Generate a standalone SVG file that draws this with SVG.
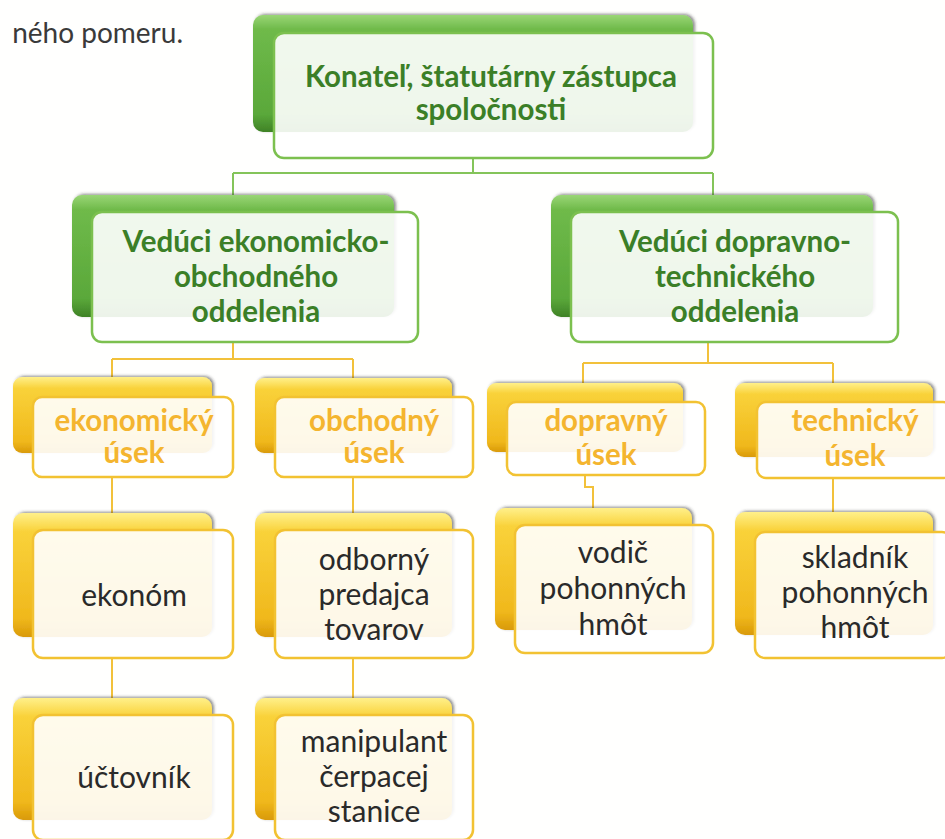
<svg xmlns="http://www.w3.org/2000/svg" width="945" height="839" viewBox="0 0 945 839">
<defs>
<linearGradient id="gG" x1="0" y1="0" x2="0" y2="1">
<stop offset="0" stop-color="#9ad676"/>
<stop offset="0.12" stop-color="#6fba4a"/>
<stop offset="0.85" stop-color="#5aa83a"/>
<stop offset="1" stop-color="#3f8226"/>
</linearGradient>
<linearGradient id="gY" x1="0" y1="0" x2="0" y2="1">
<stop offset="0" stop-color="#fff08a"/>
<stop offset="0.15" stop-color="#f9d23a"/>
<stop offset="0.85" stop-color="#f0b81c"/>
<stop offset="1" stop-color="#d99a08"/>
</linearGradient>
<filter id="sh" x="-10%" y="-10%" width="125%" height="125%">
<feDropShadow dx="2" dy="-1" stdDeviation="1.5" flood-color="#333" flood-opacity="0.55"/>
</filter>
<style>
.bg{fill:url(#gG);filter:url(#sh)}
.by{fill:url(#gY);filter:url(#sh)}
.fg{fill:#ffffff;fill-opacity:0.9;stroke:#7cc04f;stroke-width:2.5}
.fy{fill:#ffffff;fill-opacity:0.9;stroke:#f2c232;stroke-width:2.5}
.tg{font-family:Lato,"Liberation Sans",sans-serif;font-weight:bold;fill:#3b7f27;text-anchor:middle;font-size:29.5px}
.ty{font-family:Lato,"Liberation Sans",sans-serif;font-weight:bold;fill:#f4b52f;text-anchor:middle;font-size:29.5px}
.tk{font-family:Lato,"Liberation Sans",sans-serif;fill:#2a2a2a;text-anchor:middle;font-size:30px}
.cg{fill:none;stroke:#84c45a;stroke-width:2}
.cy{fill:none;stroke:#f2c13a;stroke-width:2}
</style>
</defs>
<rect width="945" height="839" fill="#fffffe"/>
<text x="183" y="43" font-family="Lato,'Liberation Sans',sans-serif" font-size="28" fill="#3a3a3a" text-anchor="end">ného pomeru.</text>
<g id="connectors">
<path class="cg" d="M473,158 V173 M233,173 H713 M233,173 V195 M713,173 V195"/>
<path class="cy" d="M233,342 V359 M112,359 H353 M112,359 V377 M353,359 V378"/>
<path class="cy" d="M708,342 V363 M583,363 H833 M583,363 V383 M833,363 V383"/>
<path class="cy" d="M112,477 V513 M353,477 V513 M585,475 V487 H593 V508 M833,478 V512"/>
<path class="cy" d="M112,658 V698 M353,658 V698"/>
</g>
<g id="n0">
<rect class="bg" x="253" y="15" width="440" height="117" rx="10"/>
<rect class="fg" x="274" y="33" width="439" height="125" rx="10"/>
<text class="tg" font-size="29" x="491" y="87">Konateľ, štatutárny zástupca</text>
<text class="tg" font-size="29" x="491" y="120">spoločnosti</text>
</g>
<g id="n1">
<rect class="bg" x="72" y="195" width="322" height="122" rx="10"/>
<rect class="fg" x="92" y="212" width="326" height="130" rx="10"/>
<text class="tg" x="256" y="252">Vedúci ekonomicko-</text>
<text class="tg" x="256" y="287">obchodného</text>
<text class="tg" x="256" y="322">oddelenia</text>
</g>
<g id="n2">
<rect class="bg" x="551" y="195" width="322" height="122" rx="10"/>
<rect class="fg" x="571" y="212" width="327" height="130" rx="10"/>
<text class="tg" x="735" y="252">Vedúci dopravno-</text>
<text class="tg" x="735" y="287">technického</text>
<text class="tg" x="735" y="322">oddelenia</text>
</g>
<g id="n3">
<rect class="by" x="13" y="377" width="199" height="76" rx="9"/>
<rect class="fy" x="33" y="397" width="200" height="80" rx="9"/>
<text class="ty" x="134" y="431">ekonomický</text>
<text class="ty" x="134" y="463">úsek</text>
</g>
<g id="n4">
<rect class="by" x="255" y="378" width="197" height="75" rx="9"/>
<rect class="fy" x="275" y="397" width="198" height="80" rx="9"/>
<text class="ty" x="374" y="431">obchodný</text>
<text class="ty" x="374" y="463">úsek</text>
</g>
<g id="n5">
<rect class="by" x="487" y="383" width="196" height="69" rx="9"/>
<rect class="fy" x="507" y="402" width="198" height="73" rx="9"/>
<text class="ty" x="606" y="431">dopravný</text>
<text class="ty" x="606" y="465">úsek</text>
</g>
<g id="n6">
<rect class="by" x="735" y="383" width="198" height="74" rx="9"/>
<rect class="fy" x="757" y="402" width="195" height="76" rx="9"/>
<text class="ty" x="855" y="431">technický</text>
<text class="ty" x="855" y="466">úsek</text>
</g>
<g id="n7">
<rect class="by" x="13" y="513" width="199" height="124" rx="10"/>
<rect class="fy" x="33" y="530" width="200" height="128" rx="10"/>
<text class="tk" x="134" y="606">ekonóm</text>
</g>
<g id="n8">
<rect class="by" x="255" y="513" width="197" height="124" rx="10"/>
<rect class="fy" x="275" y="530" width="198" height="128" rx="10"/>
<text class="tk" x="374" y="570">odborný</text>
<text class="tk" x="374" y="605">predajca</text>
<text class="tk" x="374" y="640">tovarov</text>
</g>
<g id="n9">
<rect class="by" x="495" y="508" width="197" height="122" rx="10"/>
<rect class="fy" x="515" y="525" width="198" height="128" rx="10"/>
<text class="tk" x="613" y="563">vodič</text>
<text class="tk" x="613" y="599">pohonných</text>
<text class="tk" x="613" y="635">hmôt</text>
</g>
<g id="n10">
<rect class="by" x="735" y="512" width="198" height="123" rx="10"/>
<rect class="fy" x="755" y="532" width="197" height="126" rx="10"/>
<text class="tk" x="855" y="568">skladník</text>
<text class="tk" x="855" y="603">pohonných</text>
<text class="tk" x="855" y="638">hmôt</text>
</g>
<g id="n11">
<rect class="by" x="13" y="698" width="199" height="122" rx="10"/>
<rect class="fy" x="33" y="715" width="200" height="125" rx="10"/>
<text class="tk" x="134" y="788">účtovník</text>
</g>
<g id="n12">
<rect class="by" x="255" y="698" width="197" height="122" rx="10"/>
<rect class="fy" x="275" y="715" width="198" height="125" rx="10"/>
<text class="tk" x="374" y="752">manipulant</text>
<text class="tk" x="374" y="787">čerpacej</text>
<text class="tk" x="374" y="822">stanice</text>
</g>
</svg>
